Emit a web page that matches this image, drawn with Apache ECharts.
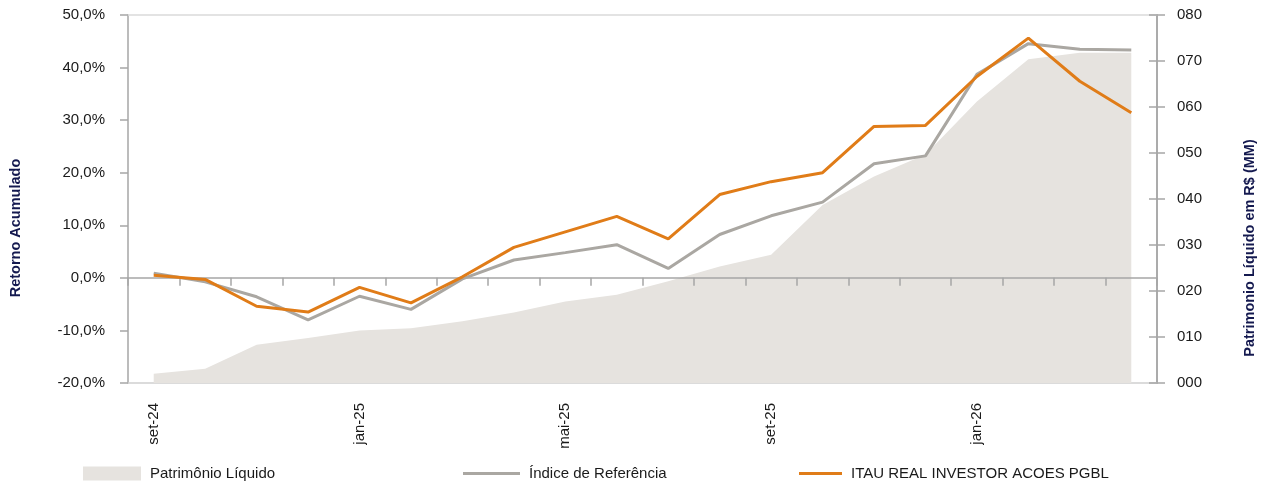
<!DOCTYPE html>
<html>
<head>
<meta charset="utf-8">
<script src="https://cdn.jsdelivr.net/npm/echarts@6/dist/echarts.min.js"></script>
<style>html,body{margin:0;padding:0;background:#fff}#c{width:1273px;height:482px}</style>
</head>
<body>
<div id="c"></div>
<script>
const months = ['set-24','out-24','nov-24','dez-24','jan-25','fev-25','mar-25','abr-25','mai-25','jun-25','jul-25','ago-25','set-25','out-25','nov-25','dez-25','jan-26','fev-26','mar-26','abr-26'];
const fundo = [0.5, -0.3, -5.4, -6.5, -1.8, -4.75, 0.2, 5.8, 8.75, 11.7, 7.4, 15.85, 18.3, 20.0, 28.8, 29.0, 38.3, 45.6, 37.4, 31.4];
const indice = [0.9, -0.76, -3.6, -8.0, -3.5, -6.0, -0.2, 3.4, 4.8, 6.3, 1.8, 8.25, 11.8, 14.4, 21.7, 23.2, 38.7, 44.55, 43.5, 43.35];
const patrimonio = [2.0, 3.1, 8.3, 9.8, 11.4, 11.9, 13.4, 15.3, 17.7, 19.2, 22.1, 25.3, 27.9, 38.7, 44.9, 49.7, 61.2, 70.4, 71.8, 71.8];
const leftTicks = {min: -20, max: 50, interval: 10};
const rightTicks = {min: 0, max: 80, interval: 10};

const FONT = "'Liberation Sans', Arial, sans-serif";
const TXT = '#1a1a1a';
const AX = '#a6a6a6';
const chart = echarts.init(document.getElementById('c'));
const legendText = {fontFamily: FONT, fontSize: 15, color: TXT, padding: [0, 0, 0, 4]};
chart.setOption({
  animation: false,
  grid: {left: 128, right: 116, top: 15, bottom: 99},
  legend: [
    {data: ['Patrimônio Líquido'], left: 83, top: 466, padding: 0, icon: 'rect', itemWidth: 58, itemHeight: 14, textStyle: legendText},
    {data: ['Índice de Referência'], left: 463, top: 466, padding: 0, icon: 'rect', itemWidth: 57, itemHeight: 3, textStyle: legendText},
    {data: ['ITAU REAL INVESTOR ACOES PGBL'], left: 799, top: 466, padding: 0, icon: 'rect', itemWidth: 43, itemHeight: 3, textStyle: legendText}
  ],
  xAxis: [
    {type: 'category', data: months, position: 'bottom', z: 3,
     axisLine: {onZero: true, onZeroAxisIndex: 0, lineStyle: {color: AX, width: 1.5}},
     axisTick: {show: true, length: 8, lineStyle: {color: AX, width: 1.5}},
     axisLabel: {show: false}, splitLine: {show: false}},
    {type: 'category', data: months, position: 'bottom',
     axisLine: {onZero: false, lineStyle: {color: '#cfcfcf', width: 1.5}},
     axisTick: {show: false},
     axisLabel: {rotate: 90, interval: 3, margin: 20, fontFamily: FONT, fontSize: 15, color: TXT},
     splitLine: {show: false}},
    {type: 'category', data: months, position: 'top',
     axisLine: {onZero: false, lineStyle: {color: '#dadada', width: 1.5}},
     axisTick: {show: false}, axisLabel: {show: false}, splitLine: {show: false}}
  ],
  yAxis: [
    {type: 'value', position: 'left', min: leftTicks.min, max: leftTicks.max, interval: leftTicks.interval,
     axisLine: {show: true, lineStyle: {color: AX, width: 1.5}},
     axisTick: {show: true, length: 8, lineStyle: {color: AX, width: 1.5}},
     axisLabel: {margin: 23, fontFamily: FONT, fontSize: 15, color: TXT,
       formatter: v => v.toFixed(1).replace('.', ',') + '%'},
     splitLine: {show: false}},
    {type: 'value', position: 'right', min: rightTicks.min, max: rightTicks.max, interval: rightTicks.interval,
     axisLine: {show: true, lineStyle: {color: AX, width: 1.5}},
     axisTick: {show: true, length: 8, lineStyle: {color: AX, width: 1.5}},
     axisLabel: {margin: 20, fontFamily: FONT, fontSize: 15, color: TXT,
       formatter: v => String(v).padStart(3, '0')},
     splitLine: {show: false}},
    {type: 'value', position: 'right', min: rightTicks.min, max: rightTicks.max, interval: rightTicks.interval,
     axisLine: {show: true, lineStyle: {color: AX, width: 1.5}},
     axisTick: {show: true, inside: true, length: 8, lineStyle: {color: AX, width: 1.5}},
     axisLabel: {show: false}, splitLine: {show: false}}
  ],
  graphic: [
    {type: 'text', x: 16, y: 228, rotation: Math.PI / 2,
     style: {text: 'Retorno Acumulado', font: "bold 14.5px 'Liberation Sans', Arial, sans-serif", fill: '#14194f', align: 'center', verticalAlign: 'middle'}},
    {type: 'text', x: 1250, y: 248, rotation: Math.PI / 2,
     style: {text: 'Patrimonio Líquido em R$ (MM)', font: "bold 14.5px 'Liberation Sans', Arial, sans-serif", fill: '#14194f', align: 'center', verticalAlign: 'middle'}}
  ],
  series: [
    {name: 'Patrimônio Líquido', type: 'line', yAxisIndex: 1, xAxisIndex: 0, data: patrimonio, z: 1,
     symbol: 'none', color: '#e6e3df', lineStyle: {width: 0}, areaStyle: {color: '#e6e3df', opacity: 1}},
    {name: 'Índice de Referência', type: 'line', yAxisIndex: 0, data: indice, z: 5,
     symbol: 'none', color: '#aaa7a2', lineStyle: {width: 3, color: '#aaa7a2'}},
    {name: 'ITAU REAL INVESTOR ACOES PGBL', type: 'line', yAxisIndex: 0, data: fundo, z: 6,
     symbol: 'none', color: '#e07c18', lineStyle: {width: 3, color: '#e07c18'}}
  ]
});
</script>
</body>
</html>
